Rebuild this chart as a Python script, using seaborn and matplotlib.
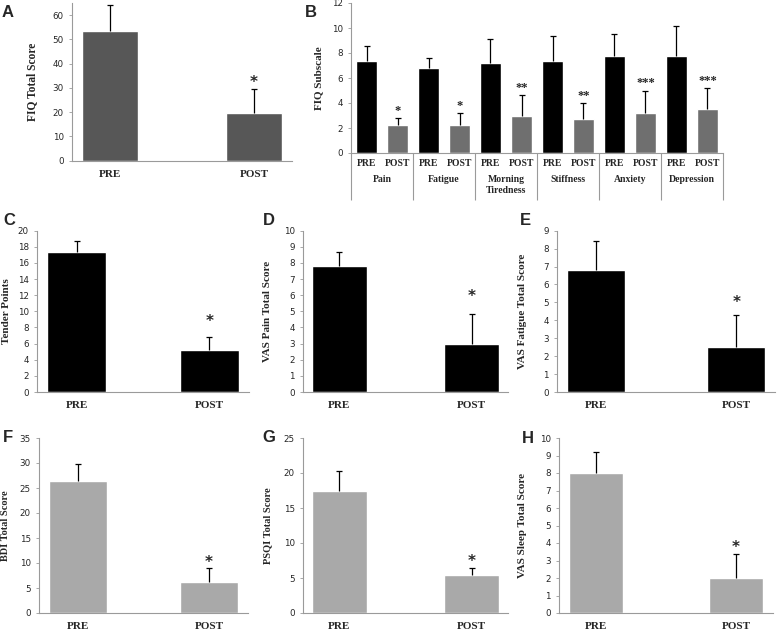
import numpy as np
import pandas as pd
import seaborn as sns
import matplotlib.pyplot as plt

# values (mean and upper error)
phases = ["PRE", "POST"]

fiq_total = [53.5, 19.5]
fiq_total_err = [10.5, 10.0]

subscales = ["Pain", "Fatigue", "Morning\nTiredness", "Stiffness", "Anxiety", "Depression"]
sub_pre = [7.35, 6.8, 7.2, 7.33, 7.8, 7.8]
sub_pre_err = [1.2, 0.8, 1.9, 2.0, 1.7, 2.4]
sub_post = [2.25, 2.25, 3.0, 2.72, 3.2, 3.52]
sub_post_err = [0.55, 0.95, 1.65, 1.25, 1.8, 1.7]
sub_stars = ["*", "*", "**", "**", "***", "***"]

tender = [17.4, 5.2]
tender_err = [1.3, 1.6]
vas_pain = [7.8, 3.0]
vas_pain_err = [0.85, 1.85]
vas_fatigue = [6.8, 2.5]
vas_fatigue_err = [1.6, 1.77]
bdi = [26.5, 6.2]
bdi_err = [3.3, 2.8]
psqi = [17.5, 5.5]
psqi_err = [2.8, 1.0]
vas_sleep = [8.0, 2.0]
vas_sleep_err = [1.2, 1.4]

SERIF = "Liberation Serif"
SANS = "Liberation Sans"
AXCOL = "#9a9a9a"

sns.set_style("white")
plt.rcParams["font.family"] = ["DejaVu Sans"]

W, H = 777, 632
fig = plt.figure(figsize=(W / 100, H / 100), dpi=100)


def px_axes(left, right, top, bottom):
    return fig.add_axes([left / W, 1 - bottom / H, (right - left) / W, (bottom - top) / H])


def up_errors(ax, vals, errs):
    # only the upper half of the error bar, like the original
    n = len(vals)
    _, caps, _ = ax.errorbar(range(n), vals, yerr=[[0] * n, errs], fmt="none",
                             ecolor="black", elinewidth=0.9, capsize=2.5, capthick=0.9)
    caps[0].set_visible(False)


def style(ax, ymax, step, ylabel, label_dist, width_px, xl_size=8, xl_pad=6.5, yl_size=7.5):
    ax.set_ylim(0, ymax)
    ax.set_yticks(np.arange(0, ymax + 0.001, step))
    sns.despine(ax=ax)
    for s in ["left", "bottom"]:
        ax.spines[s].set_color(AXCOL)
        ax.spines[s].set_linewidth(0.8)
    ax.tick_params(axis="y", length=2.5, width=0.6, color=AXCOL, labelsize=6.3, pad=3.5, left=True)
    ax.tick_params(axis="x", length=0, labelsize=xl_size, pad=xl_pad)
    for t in ax.get_xticklabels():
        t.set_fontfamily(SERIF)
        t.set_fontweight("bold")
    ax.set_xlabel("")
    ax.set_ylabel(ylabel, fontfamily=SERIF, fontweight="bold", fontsize=yl_size)
    ax.yaxis.set_label_coords(-label_dist / width_px, 0.5)


def letter(txt, x, baseline):
    fig.text(x / W, 1 - baseline / H, txt, fontfamily=SANS, fontweight="bold",
             fontsize=12, va="baseline", ha="left")


def simple_panel(box, vals, errs, color, ymax, step, ylabel, star_off, bar_w=0.42,
                 label_dist=33, yl_size=7.5):
    ax = px_axes(*box)
    df = pd.DataFrame({"phase": phases, "value": vals})
    sns.barplot(data=df, x="phase", y="value", color=color, width=bar_w,
                saturation=1, errorbar=None, ax=ax)
    up_errors(ax, vals, errs)
    ax.annotate("*", (1, vals[1] + errs[1]), xytext=(0, star_off),
                textcoords="offset points", ha="center", va="baseline",
                fontsize=11, fontweight="bold")
    style(ax, ymax, step, ylabel, label_dist, box[1] - box[0], yl_size=yl_size)
    return ax


# A
simple_panel((72, 292, 3, 160.7), fiq_total, fiq_total_err, "#575757", 65, 10,
             "FIQ Total Score", 1.5, bar_w=0.39, label_dist=34, yl_size=8.3)
letter("A", 2, 17)

# B
axb = px_axes(351, 723, 3, 153)
slots = [f"{s}|{p}" for s in subscales for p in phases]
vals_b, errs_b = [], []
for a, b, ea, eb in zip(sub_pre, sub_post, sub_pre_err, sub_post_err):
    vals_b += [a, b]
    errs_b += [ea, eb]
df_b = pd.DataFrame({"slot": slots, "phase": phases * len(subscales), "value": vals_b})
sns.barplot(data=df_b, x="slot", y="value", hue="phase", dodge=False, width=0.68,
            palette={"PRE": "black", "POST": "#6f6f6f"}, saturation=1,
            errorbar=None, legend=False, ax=axb)
up_errors(axb, vals_b, errs_b)
for i, st in enumerate(sub_stars):
    axb.annotate(st, (2 * i + 1, sub_post[i] + sub_post_err[i]), xytext=(0, 3),
                 textcoords="offset points", ha="center", va="baseline",
                 fontsize=9, fontfamily=SERIF, fontweight="bold")
axb.set_xticks(range(len(slots)))
axb.set_xticklabels(phases * len(subscales))
axb.set_xlim(-0.5, len(slots) - 0.5)
style(axb, 12, 2, "FIQ Subscale", 28, 372, xl_size=7, xl_pad=4.5, yl_size=8)
xt = axb.get_xaxis_transform()
axb.vlines(np.arange(-0.5, len(slots), 2), -0.31, 0, transform=xt, clip_on=False,
           color=AXCOL, linewidth=0.8)
for i, name in enumerate(subscales):
    axb.text(2 * i + 0.5, -0.15, name, transform=xt, ha="center", va="top",
             fontsize=7, fontfamily=SERIF, fontweight="bold", linespacing=1.15)
letter("B", 305, 17)

# C, D, E
simple_panel((37, 249, 230.7, 392), tender, tender_err, "black", 20, 2,
             "Tender Points", 8, bar_w=0.45, label_dist=26, yl_size=8)
letter("C", 3, 225)
simple_panel((303, 508, 230.7, 392), vas_pain, vas_pain_err, "black", 10, 1,
             "VAS Pain Total Score", 9, bar_w=0.41, label_dist=31, yl_size=8)
letter("D", 263, 225)
simple_panel((557, 775, 230.7, 392), vas_fatigue, vas_fatigue_err, "black", 9, 1,
             "VAS Fatigue Total Score", 6, bar_w=0.41, label_dist=30, yl_size=8)
letter("E", 520, 225)

# F, G, H
simple_panel((39, 248, 438, 613), bdi, bdi_err, "#a9a9a9", 35, 5,
             "BDI Total Score", 1, bar_w=0.45, label_dist=29)
letter("F", 3, 442)
simple_panel((303, 508, 438, 613), psqi, psqi_err, "#a9a9a9", 25, 5,
             "PSQI Total Score", 1, bar_w=0.41, label_dist=31)
letter("G", 262, 442)
simple_panel((559, 773, 438, 613), vas_sleep, vas_sleep_err, "#a9a9a9", 10, 1,
             "VAS Sleep Total Score", 1, bar_w=0.39, label_dist=32, yl_size=8)
letter("H", 522, 443)

fig.savefig("out.png", dpi=100)
